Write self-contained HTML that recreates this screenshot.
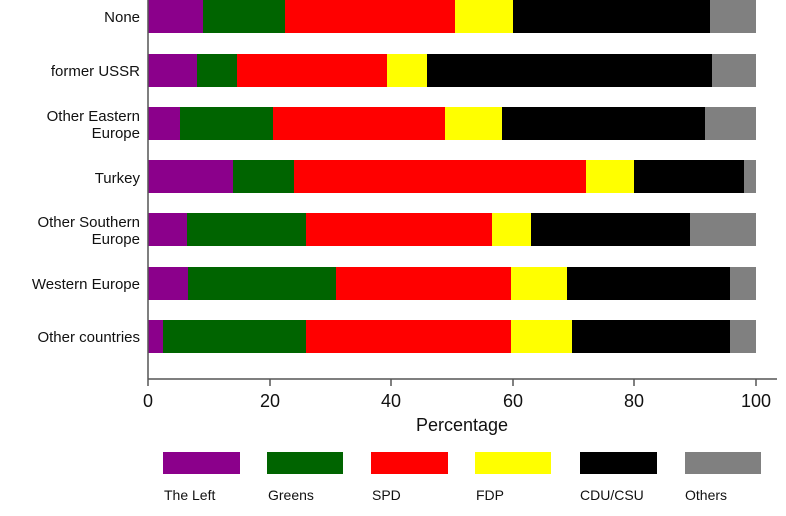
<!DOCTYPE html>
<html><head><meta charset="utf-8"><style>
html,body{margin:0;padding:0;background:#fff}
svg{display:block;font-family:"Liberation Sans",Arial,sans-serif}
</style></head><body>
<svg width="786" height="516" viewBox="0 0 786 516" xmlns="http://www.w3.org/2000/svg">
<g id="bars"></g>
<line x1="148" y1="0" x2="148" y2="379" stroke="#555" stroke-width="1.5"/>
<line x1="148" y1="379" x2="777" y2="379" stroke="#555" stroke-width="1.5"/>
<g stroke="#555" stroke-width="1.5">
<line x1="148" y1="379" x2="148" y2="386"/><line x1="270" y1="379" x2="270" y2="386"/>
<line x1="391" y1="379" x2="391" y2="386"/><line x1="513" y1="379" x2="513" y2="386"/>
<line x1="634" y1="379" x2="634" y2="386"/><line x1="756" y1="379" x2="756" y2="386"/>
</g>
<g font-size="18" text-anchor="middle" fill="#111">
<text x="148" y="407">0</text><text x="270" y="407">20</text><text x="391" y="407">40</text>
<text x="513" y="407">60</text><text x="634" y="407">80</text><text x="756" y="407">100</text>
<text x="462" y="431">Percentage</text>
</g>
<g font-size="15" text-anchor="end" fill="#111">
<text x="140" y="22">None</text>
<text x="140" y="76">former USSR</text>
<text x="140" y="121">Other Eastern</text><text x="140" y="138">Europe</text>
<text x="140" y="183">Turkey</text>
<text x="140" y="227">Other Southern</text><text x="140" y="244">Europe</text>
<text x="140" y="289">Western Europe</text>
<text x="140" y="342">Other countries</text>
</g>
<g>
<rect x="163" y="452" width="77" height="22" fill="#8b008b"/>
<rect x="267" y="452" width="76" height="22" fill="#006400"/>
<rect x="371" y="452" width="77" height="22" fill="#ff0000"/>
<rect x="475" y="452" width="76" height="22" fill="#ffff00"/>
<rect x="580" y="452" width="77" height="22" fill="#000000"/>
<rect x="685" y="452" width="76" height="22" fill="#808080"/>
</g>
<g font-size="14" fill="#111">
<text x="164" y="500">The Left</text><text x="268" y="500">Greens</text><text x="372" y="500">SPD</text>
<text x="476" y="500">FDP</text><text x="580" y="500">CDU/CSU</text><text x="685" y="500">Others</text>
</g>
</svg>
<script>
var cols=["#8b008b","#006400","#ff0000","#ffff00","#000000","#808080"];
var rows=[[0,[148,203,285,455,513,710,756]],[54,[148,197,237,387,427,712,756]],
[107,[148,180,273,445,502,705,756]],[160,[148,233,294,586,634,744,756]],
[213,[148,187,306,492,531,690,756]],[267,[148,188,336,511,567,730,756]],
[320,[148,163,306,511,572,730,756]]];
var g=document.getElementById("bars"),s="";
rows.forEach(function(r){for(var i=0;i<6;i++){s+='<rect x="'+r[1][i]+'" y="'+r[0]+'" width="'+(r[1][i+1]-r[1][i])+'" height="33" fill="'+cols[i]+'"/>';}});
g.innerHTML=s;
</script>
</body></html>
